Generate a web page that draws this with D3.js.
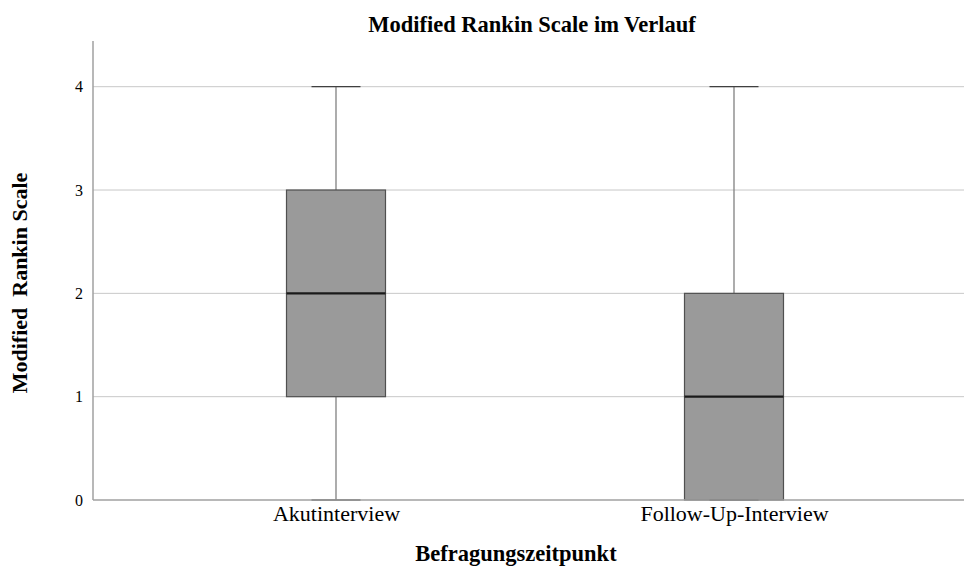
<!DOCTYPE html>
<html>
<head>
<meta charset="utf-8">
<script src="https://cdn.jsdelivr.net/npm/d3@7"></script>
<style>
  html, body { margin: 0; padding: 0; background: #fff; }
  svg { display: block; }
  svg text { font-family: "Liberation Serif", "Times New Roman", serif !important; fill: #000; }
</style>
</head>
<body>
<svg id="chart" width="964" height="568"></svg>
<script>
// Box plot statistics per interview time point
const categories = ["Akutinterview", "Follow-Up-Interview"];
const whiskerLow = [0, 0];
const quartile1 = [1, 0];
const medians = [2, 1];
const quartile3 = [3, 2];
const whiskerHigh = [4, 4];
const yTicks = [0, 1, 2, 3, 4];

const W = 964, H = 568;
const plot = { left: 93, right: 964, top: 41, bottom: 500 };
const serif = "Liberation Serif, Times New Roman, serif";

const svg = d3.select("#chart");

const y = d3.scaleLinear()
  .domain([0, 4])
  .range([plot.bottom, 86.7]);

const x = d3.scalePoint()
  .domain(categories)
  .range([336, 734]);

const boxW = 99, capW = 49;

// horizontal gridlines
svg.append("g")
  .selectAll("line")
  .data(yTicks.filter(d => d > 0))
  .join("line")
  .attr("x1", plot.left).attr("x2", plot.right)
  .attr("y1", d => y(d)).attr("y2", d => y(d))
  .attr("stroke", "#c8c8c8").attr("stroke-width", 1);

// y axis
const yAxis = svg.append("g")
  .attr("transform", `translate(${plot.left},0)`)
  .call(d3.axisLeft(y).tickValues(yTicks).tickSize(0).tickPadding(10).tickFormat(d3.format("d")))
  .attr("font-family", serif)
  .attr("font-size", 16);
yAxis.select(".domain").remove();
yAxis.selectAll("text").attr("font-family", serif);

svg.append("line")
  .attr("x1", plot.left).attr("x2", plot.left)
  .attr("y1", plot.top).attr("y2", plot.bottom)
  .attr("stroke", "#a0a0a0").attr("stroke-width", 1.5);

// box plots
const rows = categories.map((c, i) => ({
  c, lo: whiskerLow[i], q1: quartile1[i], med: medians[i], q3: quartile3[i], hi: whiskerHigh[i]
}));

const g = svg.append("g").selectAll("g").data(rows).join("g");

g.append("line")
  .attr("x1", d => x(d.c)).attr("x2", d => x(d.c))
  .attr("y1", d => y(d.hi)).attr("y2", d => y(d.q3))
  .attr("stroke", "#808080").attr("stroke-width", 1.3);
g.append("line")
  .attr("x1", d => x(d.c)).attr("x2", d => x(d.c))
  .attr("y1", d => y(d.q1)).attr("y2", d => y(d.lo))
  .attr("stroke", "#808080").attr("stroke-width", 1.3);

g.append("rect")
  .attr("x", d => x(d.c) - boxW / 2)
  .attr("width", boxW)
  .attr("y", d => y(d.q3))
  .attr("height", d => y(d.q1) - y(d.q3))
  .attr("fill", "#9a9a9a")
  .attr("stroke", "#505050").attr("stroke-width", 1.2);

g.append("line")
  .attr("x1", d => x(d.c) - boxW / 2).attr("x2", d => x(d.c) + boxW / 2)
  .attr("y1", d => y(d.med)).attr("y2", d => y(d.med))
  .attr("stroke", "#1a1a1a").attr("stroke-width", 2.2);

// x axis line
svg.append("line")
  .attr("x1", plot.left).attr("x2", plot.right)
  .attr("y1", plot.bottom).attr("y2", plot.bottom)
  .attr("stroke", "#a0a0a0").attr("stroke-width", 1.5);

// whisker caps
["hi", "lo"].forEach(k => {
  g.append("line")
    .attr("x1", d => x(d.c) - capW / 2).attr("x2", d => x(d.c) + capW / 2)
    .attr("y1", d => y(d[k])).attr("y2", d => y(d[k]))
    .attr("stroke", "#404040").attr("stroke-width", 1.3);
});

// category labels
const xAxis = svg.append("g")
  .attr("transform", `translate(0,${plot.bottom})`)
  .call(d3.axisBottom(x).tickSize(0).tickPadding(5))
  .attr("font-family", serif)
  .attr("font-size", 22);
xAxis.select(".domain").remove();
xAxis.selectAll("text").attr("font-family", serif);

// titles
svg.append("text")
  .attr("x", 532).attr("y", 32)
  .attr("text-anchor", "middle")
  .attr("font-size", 22.5).attr("font-weight", "bold")
  .text("Modified Rankin Scale im Verlauf");

svg.append("text")
  .attr("x", 516).attr("y", 561)
  .attr("text-anchor", "middle")
  .attr("font-size", 22.5).attr("font-weight", "bold")
  .text("Befragungszeitpunkt");

svg.append("text")
  .attr("transform", "translate(27,283) rotate(-90)")
  .attr("text-anchor", "middle")
  .attr("font-size", 22).attr("font-weight", "bold")
  .attr("xml:space", "preserve")
  .style("white-space", "pre")
  .text("Modified  Rankin Scale");
</script>
</body>
</html>
